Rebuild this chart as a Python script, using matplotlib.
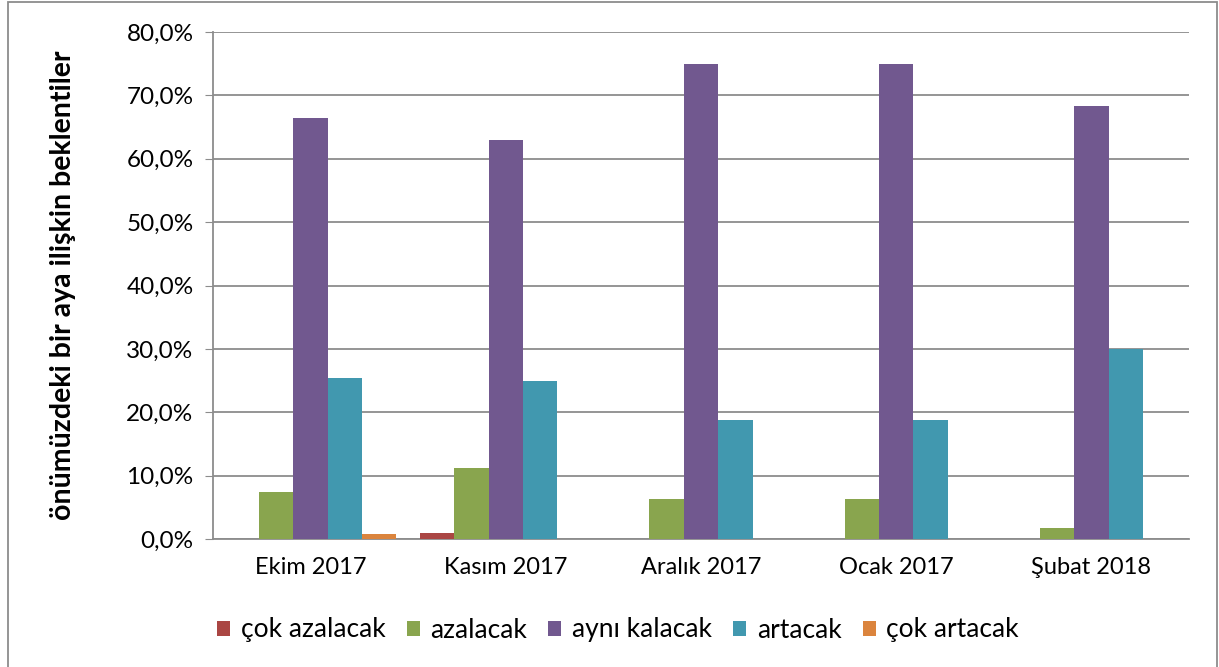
import matplotlib.pyplot as plt
import numpy as np
from matplotlib.patches import Rectangle
from matplotlib.ticker import FuncFormatter

plt.rcParams['font.family'] = ['Lato', 'DejaVu Sans']

months = ["Ekim 2017", "Kasım 2017", "Aralık 2017", "Ocak 2017", "Şubat 2018"]
series_names = ["çok azalacak", "azalacak", "aynı kalacak", "artacak", "çok artacak"]
cok_azalacak = [0.0, 0.9, 0.0, 0.0, 0.0]
azalacak = [7.4, 11.2, 6.25, 6.25, 1.7]
ayni_kalacak = [66.4, 62.9, 75.0, 75.0, 68.3]
artacak = [25.4, 25.0, 18.75, 18.75, 30.0]
cok_artacak = [0.8, 0.0, 0.0, 0.0, 0.0]
colors = ["#AA4643", "#89A54E", "#71588F", "#4198AF", "#DB843D"]

fig = plt.figure(figsize=(12.19, 6.67), dpi=100)
ax = fig.add_axes([213/1219, 1-539/667, (1189-213)/1219, (539-32)/667])

x = np.arange(len(months))
w = 0.176
for i, (name, vals) in enumerate(zip(series_names, [cok_azalacak, azalacak, ayni_kalacak, artacak, cok_artacak])):
    ax.bar(x + (i-2)*w, vals, width=w, color=colors[i], label=name, zorder=3, linewidth=0)

ax.set_xlim(-0.5, 4.5)
ax.set_ylim(0, 80)
ax.set_yticks(np.arange(0, 81, 10))
ax.yaxis.set_major_formatter(FuncFormatter(lambda v, p: f"{v:.1f}%".replace(".", ",")))
ax.grid(axis="y", color="#8c8c8c", linewidth=1.3, zorder=0)
ax.set_xticks(x)
ax.set_xticklabels(months)
for s in ["top", "right"]:
    ax.spines[s].set_visible(False)
for s in ["left", "bottom"]:
    ax.spines[s].set_color("#8c8c8c")
    ax.spines[s].set_linewidth(1.3)
ax.tick_params(axis="y", length=6, color="#8c8c8c", labelsize=17.5, pad=8)
ax.tick_params(axis="x", length=0, labelsize=17, pad=13)

ax.set_ylabel("önümüzdeki bir aya ilişkin beklentiler", fontsize=20.5, fontweight="bold")
ax.yaxis.set_label_coords(-0.14, 0.5)

ax.legend(loc="center", bbox_to_anchor=(618/1219, 1-630/667), bbox_transform=fig.transFigure,
          ncol=5, frameon=False, fontsize=19,
          handlelength=0.5, handleheight=0.5, columnspacing=0.8, handletextpad=0.4)

fig.patches.append(Rectangle((8/1219, -0.01), (1217-8)/1219, 1.01 - 2/667, transform=fig.transFigure,
                             fill=False, edgecolor="#8c8c8c", linewidth=1.3))

plt.savefig("out.png")
